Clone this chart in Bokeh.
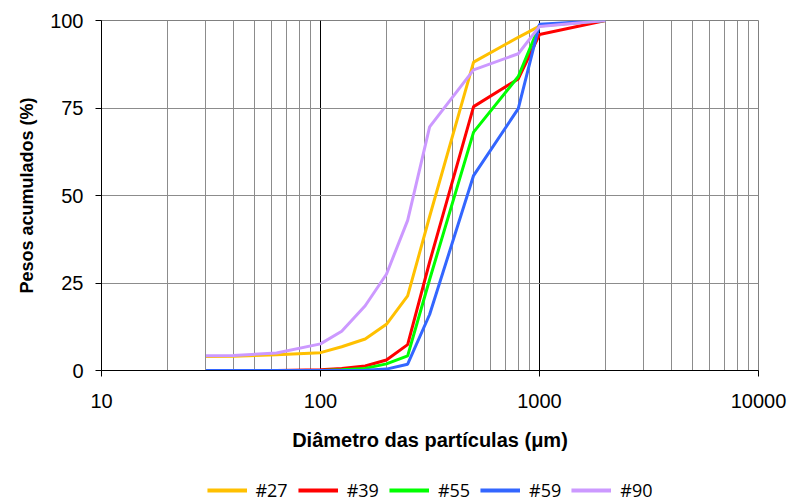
from bokeh.plotting import figure
from bokeh.layouts import column
from bokeh.models import FixedTicker, NumeralTickFormatter, Legend, LegendItem, Range1d
from bokeh.embed import file_html
from bokeh.resources import INLINE

# Particle diameters (µm)
sizes = [30, 40, 63, 100, 125, 160, 200, 250, 315, 500, 800, 1000, 2000]

# Cumulative weights (%)
s27 = [4.0, 4.1, 4.5, 5.1, 6.8, 9.0, 13.2, 21.3, 44.0, 88.1, 95.2, 98.4, 100]
s39 = [0, 0, 0, 0.2, 0.6, 1.3, 3.0, 7.4, 31.0, 75.4, 83.3, 96.0, 100]
s55 = [0, 0, 0, 0, 0.2, 0.6, 1.9, 4.2, 26.0, 68.1, 84.0, 98.6, 100]
s59 = [0, 0, 0, 0, 0, 0.1, 0.4, 1.8, 16.0, 55.7, 74.8, 98.9, 100]
s90 = [4.2, 4.3, 5.0, 7.6, 11.2, 18.5, 27.5, 42.9, 69.6, 85.9, 90.5, 98.3, 100]

series_names = ["#27", "#39", "#55", "#59", "#90"]
series_values = [s27, s39, s55, s59, s90]
series_colors = ["#FFC000", "#FF0000", "#00FF00", "#3366FF", "#CC99FF"]

x_major = [10, 100, 1000, 10000]
x_minor = [m * d for d in [10, 100, 1000] for m in range(2, 10)]
y_ticks = [0, 25, 50, 75, 100]

p = figure(width=790, height=478, x_axis_type="log",
           x_range=Range1d(10, 10000), y_range=Range1d(0, 100),
           output_backend="svg", toolbar_location=None,
           min_border_left=101, min_border_right=32,
           min_border_top=20, min_border_bottom=108)

p.background_fill_color = "white"
p.border_fill_color = "white"
p.outline_line_color = "#808080"
p.outline_line_width = 1

for name, vals, col in zip(series_names, series_values, series_colors):
    p.line(sizes, vals, line_color=col, line_width=3)

# X axis
p.xaxis.ticker = FixedTicker(ticks=x_major, minor_ticks=x_minor)
p.xaxis.formatter = NumeralTickFormatter(format="0")
p.xaxis.axis_label = "Diâmetro das partículas (μm)"
p.xaxis.minor_tick_line_color = None
p.xaxis.major_tick_out = 6
p.xaxis.major_tick_in = 0
p.xaxis.major_label_standoff = 17
p.xaxis.axis_label_standoff = 18
p.xaxis.axis_label_text_font_size = "20px"

# Y axis
p.yaxis.ticker = FixedTicker(ticks=y_ticks)
p.yaxis.axis_label = "Pesos acumulados (%)"
p.yaxis.minor_tick_line_color = None
p.yaxis.major_tick_out = 6
p.yaxis.major_tick_in = 0
p.yaxis.major_label_standoff = 12
p.yaxis.axis_label_standoff = 10
p.yaxis.axis_label_text_font_size = "18px"

for ax in [p.xaxis[0], p.yaxis[0]]:
    ax.axis_line_color = "black"
    ax.axis_line_width = 1
    ax.major_tick_line_color = "black"
    ax.major_label_text_font = "Liberation Sans"
    ax.major_label_text_font_size = "20px"
    ax.major_label_text_color = "black"
    ax.axis_label_text_font = "Liberation Sans"
    ax.axis_label_text_font_style = "bold"
    ax.axis_label_text_color = "black"

# Grids
p.xgrid.ticker = FixedTicker(ticks=x_major, minor_ticks=x_minor)
p.xgrid.grid_line_color = "black"
p.xgrid.grid_line_width = 1
p.xgrid.minor_grid_line_color = "#8c8c8c"
p.xgrid.minor_grid_line_width = 1
p.ygrid.ticker = FixedTicker(ticks=y_ticks)
p.ygrid.grid_line_color = "#8c8c8c"
p.ygrid.grid_line_width = 1

# Legend strip below the chart (series drawn out of view, only legend shows)
pl = figure(width=790, height=24, output_backend="svg", toolbar_location=None,
            x_range=Range1d(-2, -1), y_range=Range1d(-2, -1),
            min_border_left=101, min_border_right=32,
            min_border_top=0, min_border_bottom=0)
pl.axis.visible = False
pl.grid.visible = False
pl.outline_line_color = None
pl.background_fill_color = "white"
pl.border_fill_color = "white"

items = []
for name, vals, col in zip(series_names, series_values, series_colors):
    r = pl.line(sizes, vals, line_color=col, line_width=4)
    items.append(LegendItem(label=name, renderers=[r]))

legend = Legend(items=items, orientation="horizontal", location="center",
                glyph_width=40, glyph_height=20, label_standoff=9, spacing=10,
                label_height=20, padding=0, margin=0, border_line_color=None,
                background_fill_alpha=0,
                label_text_font="Open Sans", label_text_font_size="18px",
                label_text_color="black")
pl.add_layout(legend, "center")

layout = column(p, pl, spacing=0)
open("out.html", "w").write(file_html(layout, INLINE))
